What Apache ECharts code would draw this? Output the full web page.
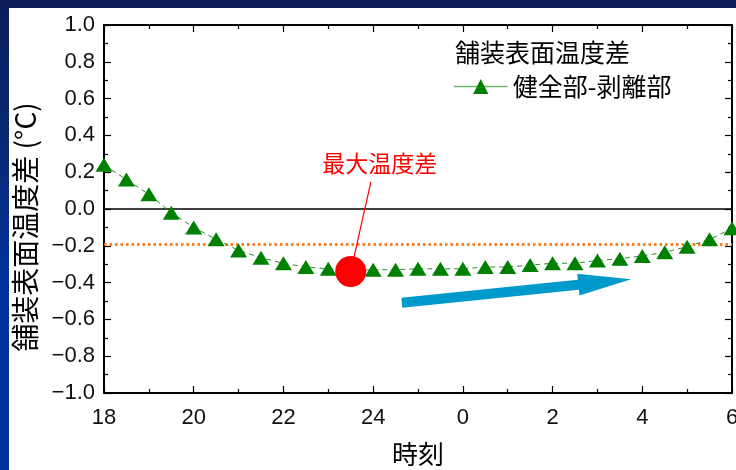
<!DOCTYPE html>
<html>
<head>
<meta charset="utf-8">
<script src="https://cdn.jsdelivr.net/npm/echarts@6.0.0/dist/echarts.min.js"></script>
<style>
  html, body { margin: 0; padding: 0; width: 736px; height: 470px; overflow: hidden;
    background: linear-gradient(to bottom, #0b1d5a 0%, #0a2874 30%, #00339a 60%, #00339a 100%); }
  #chart { position: absolute; left: 9px; top: 8px; width: 727px; height: 462px; background: #ffffff; }
</style>
</head>
<body>
<div id="chart"></div>
<script>
// Time positions on the axis (18:00 .. 6:00, every 30 min)
const hours = [18, 18.5, 19, 19.5, 20, 20.5, 21, 21.5, 22, 22.5, 23, 23.5, 24, 24.5,
               25, 25.5, 26, 26.5, 27, 27.5, 28, 28.5, 29, 29.5, 30, 30.5, 31, 31.5, 32];
// Surface temperature difference: sound part minus delaminated part (°C)
const tempDiff = [0.24, 0.16, 0.08, -0.02, -0.10, -0.165, -0.225, -0.265, -0.295, -0.315,
                  -0.325, -0.335, -0.33, -0.33, -0.325, -0.325, -0.325, -0.315, -0.315, -0.305,
                  -0.295, -0.295, -0.28, -0.27, -0.255, -0.235, -0.205, -0.165, -0.105];
const xTickLabels = ['18', '20', '22', '24', '0', '2', '4', '6'];
const seriesName = '健全部-剥離部';
const legendTitle = '舗装表面温度差';
const peakPoint = [23.5, -0.34];
const peakLabel = '最大温度差';
const peakLeader = [23.95, 0.148];
const peakLabelPos = [24.15, 0.25];
const thresholdValue = -0.19;
const trendArrow = [24.64, -0.509, 29.75, -0.382];

const jp = '"Noto Sans CJK JP", sans-serif';
const num = '"Liberation Sans", Arial, sans-serif';

const chart = echarts.init(document.getElementById('chart'), null, { renderer: 'canvas' });

const tickCommon = {
  axisLine: { show: true, onZero: false, lineStyle: { color: '#000', width: 2 } },
  axisTick: { show: true, inside: true, length: 7, lineStyle: { color: '#000', width: 1.2 } },
  minorTick: { show: true, splitNumber: 2, length: 4, lineStyle: { color: '#000', width: 1.2 } },
  splitLine: { show: false },
  minorSplitLine: { show: false }
};

chart.setOption({
  animation: false,
  backgroundColor: '#ffffff',
  grid: { left: 95, top: 17, right: 4, bottom: 77, containLabel: false, outerBoundsMode: 'none' },
  title: {
    text: legendTitle,
    left: 446, top: 32,
    padding: 0,
    textStyle: { fontFamily: jp, fontSize: 25, fontWeight: 'normal', color: '#000' }
  },
  legend: {
    data: [seriesName],
    left: 444, top: 66,
    padding: 0,
    itemWidth: 54, itemHeight: 19,
    textStyle: { fontFamily: jp, fontSize: 25, color: '#000' },
    lineStyle: { color: '#6fb56f', width: 1.5, type: 'solid' },
    itemStyle: { color: '#008000' }
  },
  xAxis: [
    Object.assign({
      type: 'value', position: 'bottom', min: 18, max: 32, interval: 2,
      name: '時刻', nameLocation: 'middle', nameGap: 48,
      nameTextStyle: { fontFamily: jp, fontSize: 26, color: '#000' },
      axisLabel: {
        margin: 14, fontFamily: num, fontSize: 22, color: '#111',
        formatter: v => xTickLabels[Math.round((v - 18) / 2)]
      }
    }, tickCommon),
    Object.assign({
      type: 'value', position: 'top', min: 18, max: 32, interval: 2,
      axisLabel: { show: false }
    }, tickCommon)
  ],
  yAxis: [
    Object.assign({
      type: 'value', position: 'left', min: -1, max: 1, interval: 0.2,
      name: '舗装表面温度差 (°C)', nameLocation: 'middle', nameGap: 65, nameRotate: 90,
      nameTextStyle: { fontFamily: jp, fontSize: 28, color: '#000', padding: [0, 36, 0, 0] },
      axisLabel: {
        margin: 9, fontFamily: num, fontSize: 22, color: '#111',
        formatter: v => v.toFixed(1).replace('-', '\u2212')
      }
    }, tickCommon),
    Object.assign({
      type: 'value', position: 'right', min: -1, max: 1, interval: 0.2,
      axisLabel: { show: false }
    }, tickCommon)
  ],
  series: [
    {
      name: seriesName,
      type: 'line',
      data: hours.map((h, i) => [h, tempDiff[i]]),
      symbol: 'triangle',
      symbolSize: [17, 14],
      itemStyle: { color: '#008000' },
      lineStyle: { color: '#2e8b2e', width: 1, type: [5, 4] },
      z: 5,
      markLine: {
        silent: true,
        symbol: ['none', 'none'],
        label: { show: false },
        animation: false,
        data: [
          { yAxis: 0, lineStyle: { color: '#000', width: 1.5, type: 'solid' } },
          { yAxis: thresholdValue, lineStyle: { color: '#ff6a00', width: 2.5, type: [2.5, 3] } }
        ]
      }
    },
    {
      name: 'annotation',
      type: 'custom',
      data: [[peakPoint[0], peakPoint[1], peakLeader[0], peakLeader[1], peakLabelPos[0], peakLabelPos[1]]],
      encode: { x: [0, 2, 4], y: [1, 3, 5] },
      clip: false,
      z: 6,
      renderItem: (params, api) => {
        const p = api.coord([api.value(0), api.value(1)]);
        const q = api.coord([api.value(2), api.value(3)]);
        const t = api.coord([api.value(4), api.value(5)]);
        return {
          type: 'group',
          children: [
            { type: 'line', shape: { x1: p[0], y1: p[1], x2: q[0], y2: q[1] },
              style: { stroke: '#ff0000', lineWidth: 1.2 } },
            { type: 'text', x: t[0], y: t[1],
              style: { text: peakLabel, fill: '#ff0000', fontFamily: jp, fontSize: 23,
                       align: 'center', verticalAlign: 'middle' } }
          ]
        };
      }
    },
    {
      name: peakLabel,
      type: 'scatter',
      data: [peakPoint],
      symbol: 'circle',
      symbolSize: 31,
      itemStyle: { color: '#ff0000', opacity: 1 },
      z: 7
    },
    {
      name: 'trend',
      type: 'custom',
      data: [trendArrow],
      encode: { x: [0, 2], y: [1, 3] },
      clip: false,
      z: 4,
      renderItem: (params, api) => {
        const a = api.coord([api.value(0), api.value(1)]);
        const b = api.coord([api.value(2), api.value(3)]);
        const dx = b[0] - a[0], dy = b[1] - a[1];
        const L = Math.hypot(dx, dy);
        const ux = dx / L, uy = dy / L, nx = -uy, ny = ux;
        const headLen = 53, shaft = 5, head = 11;
        const bx = b[0] - ux * headLen, by = b[1] - uy * headLen;
        return {
          type: 'polygon',
          shape: { points: [
            [a[0] + nx * shaft, a[1] + ny * shaft],
            [bx + nx * shaft, by + ny * shaft],
            [bx + nx * head, by + ny * head],
            [b[0], b[1]],
            [bx - nx * head, by - ny * head],
            [bx - nx * shaft, by - ny * shaft],
            [a[0] - nx * shaft, a[1] - ny * shaft]
          ] },
          style: { fill: '#0099cc' }
        };
      }
    }
  ]
});
</script>
</body>
</html>
